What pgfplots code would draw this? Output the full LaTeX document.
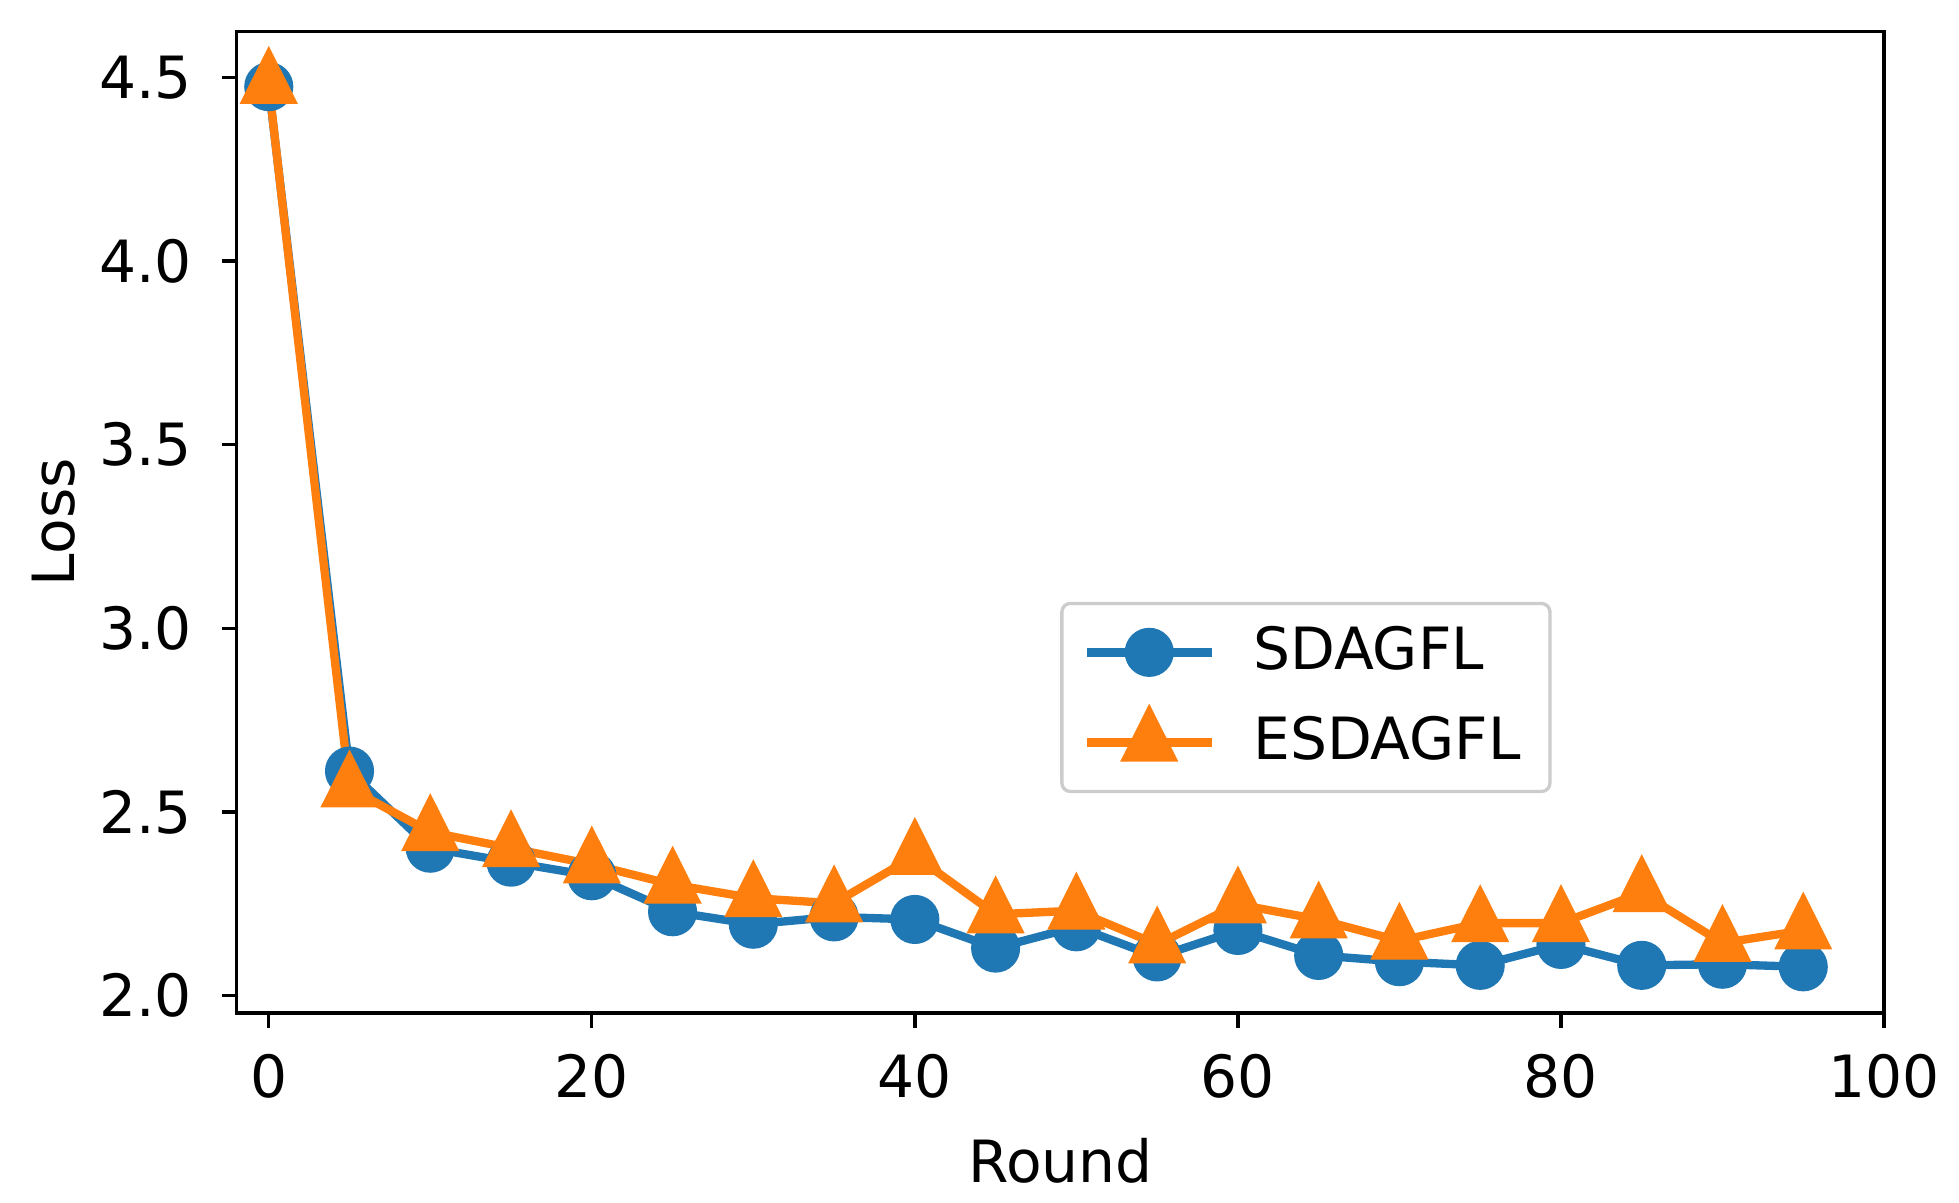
\documentclass[border=0pt]{standalone}
\usepackage{fontspec}
\setmainfont{DejaVu Sans}
\usepackage{pgfplots}
\pgfplotsset{compat=1.18}

\definecolor{tabblue}{HTML}{1F77B4}
\definecolor{taborange}{HTML}{FF7F0E}
\definecolor{legframe}{HTML}{CCCCCC}

\pgfplotstableread{
round sdagfl esdagfl
0  4.475 4.480
5  2.611 2.564
10 2.401 2.445
15 2.363 2.401
20 2.326 2.357
25 2.228 2.302
30 2.194 2.265
35 2.214 2.251
40 2.207 2.380
45 2.129 2.221
50 2.187 2.231
55 2.105 2.139
60 2.177 2.248
65 2.109 2.207
70 2.092 2.149
75 2.082 2.197
80 2.139 2.197
85 2.082 2.279
90 2.085 2.143
95 2.078 2.177
}\losstable

\begin{document}
\fontsize{14}{16.8}\selectfont
\begin{tikzpicture}
\begin{axis}[
    scale only axis,
    width=396pt, height=236pt,
    xmin=-2, xmax=100,
    ymin=1.952, ymax=4.626,
    xtick={0,20,40,60,80,100},
    ytick={2.0,2.5,3.0,3.5,4.0,4.5},
    yticklabel style={xshift=-2.4pt, /pgf/number format/.cd, fixed, fixed zerofill, precision=1},
    xticklabel style={yshift=-1.5pt},
    /pgf/number format/assume math mode=true,
    ticklabel style={font=\fontsize{14}{16.8}\selectfont},
    label style={font=\fontsize{14}{16.8}\selectfont},
    xlabel={Round},
    ylabel={Loss},
    ylabel style={yshift=-3.8pt},
    tick align=outside,
    major tick length=3.5pt,
    tick style={black, line width=0.8pt},
    axis line style={line width=0.8pt},
    xtick pos=bottom, ytick pos=left,
    legend cell align=left,
    legend style={
        at={(0.5,0.224)}, anchor=south west,
        draw=legframe, line width=0.8pt, rounded corners=2pt,
        font=\fontsize{14}{16.8}\selectfont,
        inner xsep=5pt, inner ysep=3.5pt,
        row sep=5.2pt,
        /tikz/every odd column/.append style={column sep=7pt},
    },
    legend image code/.code={
        \draw[mark repeat=2, mark phase=2] plot coordinates {(0pt,0pt) (15pt,0pt) (30pt,0pt)};
    },
]
\addplot[color=tabblue, line width=2pt, mark=*, mark size=4.9pt]
    table[x=round, y=sdagfl] {\losstable};
\addlegendentry{SDAGFL}
\addplot[color=taborange, line width=2pt, mark=triangle*, mark size=6.2pt,
    mark options={yscale=1.15}]
    table[x=round, y=esdagfl] {\losstable};
\addlegendentry{ESDAGFL}
\end{axis}
\path (current axis.north) ++(0,7.5pt);
\path (current bounding box.west) ++(-3pt,0);
\end{tikzpicture}
\end{document}
